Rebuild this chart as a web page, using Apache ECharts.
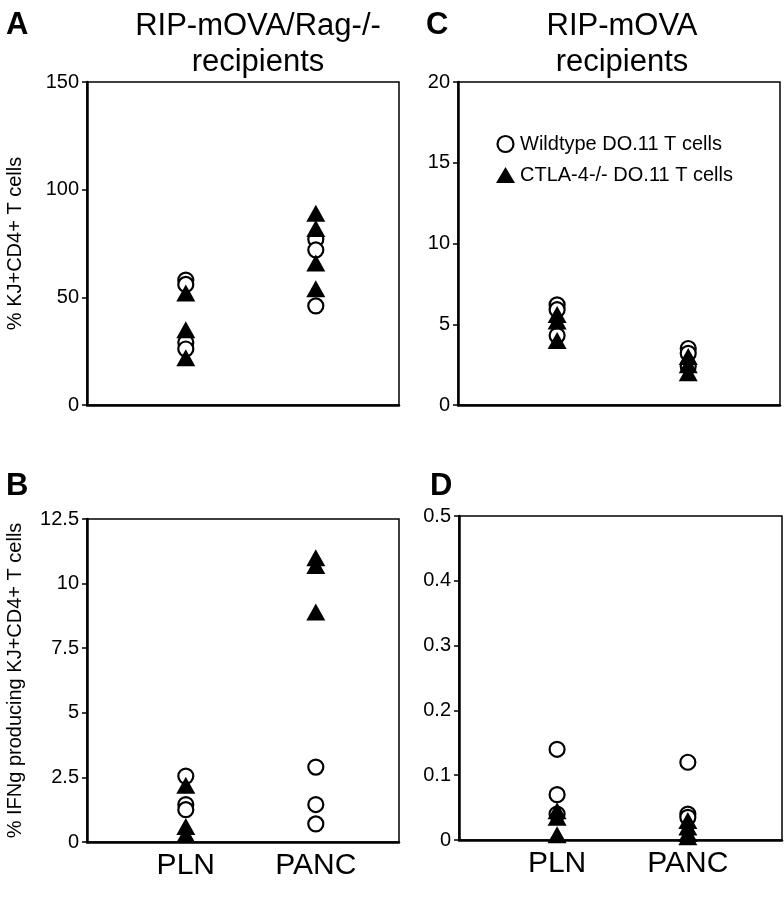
<!DOCTYPE html>
<html>
<head>
<meta charset="utf-8">
<script src="https://cdn.jsdelivr.net/npm/echarts@6/dist/echarts.min.js"></script>
<style>
  html, body { margin: 0; background: #fff; }
  #main { width: 784px; height: 900px; }
</style>
</head>
<body>
<div id="main"></div>
<script>
// x categories (plotted at 1 and 2)
var categories = ['PLN', 'PANC'];

// A: % KJ+CD4+ T cells, RIP-mOVA/Rag-/- recipients
var aWildPLN = [58, 56, 29, 26];
var aWildPANC = [77, 72, 46];
var aKoPLN = [52, 35, 22];
var aKoPANC = [89, 82, 66, 54];

// B: % IFNg producing KJ+CD4+ T cells, RIP-mOVA/Rag-/- recipients
var bWildPLN = [2.55, 1.45, 1.25];
var bWildPANC = [2.9, 1.45, 0.7];
var bKoPLN = [2.2, 0.6, 0.3];
var bKoPANC = [11.0, 10.7, 8.9];

// C: % KJ+CD4+ T cells, RIP-mOVA recipients
var cWildPLN = [6.2, 5.9, 4.3];
var cWildPANC = [3.5, 3.2, 2.4];
var cKoPLN = [5.6, 5.2, 4.0];
var cKoPANC = [3.0, 2.5, 2.0];

// D: % IFNg producing KJ+CD4+ T cells, RIP-mOVA recipients
var dWildPLN = [0.14, 0.07, 0.04];
var dWildPANC = [0.12, 0.04, 0.035];
var dKoPLN = [0.045, 0.035, 0.008];
var dKoPANC = [0.03, 0.02, 0.01, 0.005];

// y tick labels per panel
var ticksA = [0, 50, 100, 150];
var ticksB = [0, 2.5, 5, 7.5, 10, 12.5];
var ticksC = [0, 5, 10, 15, 20];
var ticksD = [0, 0.1, 0.2, 0.3, 0.4, 0.5];

var wildName = 'Wildtype DO.11 T cells';
var koName = 'CTLA-4-/- DO.11 T cells';
var font = 'Liberation Sans, Arial, sans-serif';

function pts(pln, panc) {
  return pln.map(function (v) { return [1, v]; })
    .concat(panc.map(function (v) { return [2, v]; }));
}

var grids = [
  { left: 87, top: 82, width: 312, height: 323 },
  { left: 87, top: 519, width: 312, height: 323 },
  { left: 458, top: 82, width: 322, height: 323 },
  { left: 459, top: 516, width: 323, height: 324 }
];

function xAxis(i, showLabels, min, max) {
  return {
    type: 'value', gridIndex: i, min: min, max: max,
    splitLine: { show: false },
    axisTick: { show: false },
    axisLine: { onZero: false, lineStyle: { color: '#000', width: 2.5 } },
    axisLabel: {
      show: showLabels, customValues: [1, 2], margin: 9,
      color: '#000', fontSize: 30, fontFamily: font,
      formatter: function (v) { return categories[v - 1]; }
    }
  };
}

function yAxis(i, ticks, name) {
  return {
    type: 'value', gridIndex: i,
    min: ticks[0], max: ticks[ticks.length - 1], interval: ticks[1] - ticks[0],
    name: name, nameLocation: 'middle', nameGap: 62,
    nameTextStyle: { color: '#000', fontSize: 20, fontFamily: font },
    splitLine: { show: false },
    axisLine: { show: true, lineStyle: { color: '#000', width: 2.5 } },
    axisTick: { show: true, length: 5, lineStyle: { color: '#000', width: 1.5 } },
    axisLabel: { color: '#000', fontSize: 20, fontFamily: font, margin: 8 }
  };
}

function wild(i, pln, panc) {
  return {
    name: wildName, type: 'scatter', xAxisIndex: i, yAxisIndex: i,
    symbol: 'circle', symbolSize: 15, z: 2,
    itemStyle: { color: '#fff', borderColor: '#000', borderWidth: 2.2, opacity: 1 },
    data: pts(pln, panc)
  };
}

function ko(i, pln, panc) {
  return {
    name: koName, type: 'scatter', xAxisIndex: i, yAxisIndex: i,
    symbol: 'triangle', symbolSize: [19, 17], z: 3,
    itemStyle: { color: '#000', opacity: 1 },
    data: pts(pln, panc)
  };
}

var titleStyle = { color: '#000', fontSize: 31, fontWeight: 'normal', fontFamily: font, lineHeight: 36 };
var letterStyle = { color: '#000', fontSize: 31, fontWeight: 'bold', fontFamily: font };

var myChart = echarts.init(document.getElementById('main'));
myChart.setOption({
  backgroundColor: '#fff',
  animation: false,
  title: [
    { text: 'A', left: 1, top: 5, textStyle: letterStyle },
    { text: 'C', left: 421, top: 5, textStyle: letterStyle },
    { text: 'B', left: 1, top: 466, textStyle: letterStyle },
    { text: 'D', left: 425, top: 466, textStyle: letterStyle },
    { text: 'RIP-mOVA/Rag-/-\nrecipients', left: 253, textAlign: 'center', top: 3, textStyle: titleStyle },
    { text: 'RIP-mOVA\nrecipients', left: 617, textAlign: 'center', top: 3, textStyle: titleStyle }
  ],
  legend: {
    orient: 'vertical', left: 491, top: 129, itemGap: 11,
    itemWidth: 19, itemHeight: 16,
    textStyle: { color: '#000', fontSize: 20, fontFamily: font },
    data: [
      { name: wildName, icon: 'circle', itemStyle: { color: '#fff', borderColor: '#000', borderWidth: 2.2 } },
      { name: koName, icon: 'triangle', itemStyle: { color: '#000' } }
    ],
    selectedMode: false
  },
  grid: grids.map(function (g) {
    return Object.assign({ show: true, borderColor: '#000', borderWidth: 1.5, backgroundColor: '#fff' }, g);
  }),
  xAxis: [
    xAxis(0, false, 0.24, 2.64),
    xAxis(1, true, 0.24, 2.64),
    xAxis(2, false, 0.244, 2.70),
    xAxis(3, true, 0.25, 2.72)
  ],
  yAxis: [
    yAxis(0, ticksA, '% KJ+CD4+ T cells'),
    yAxis(1, ticksB, '% IFNg producing KJ+CD4+ T cells'),
    yAxis(2, ticksC, ''),
    yAxis(3, ticksD, '')
  ],
  series: [
    wild(0, aWildPLN, aWildPANC), ko(0, aKoPLN, aKoPANC),
    wild(1, bWildPLN, bWildPANC), ko(1, bKoPLN, bKoPANC),
    wild(2, cWildPLN, cWildPANC), ko(2, cKoPLN, cKoPANC),
    wild(3, dWildPLN, dWildPANC), ko(3, dKoPLN, dKoPANC)
  ]
});
</script>
</body>
</html>
